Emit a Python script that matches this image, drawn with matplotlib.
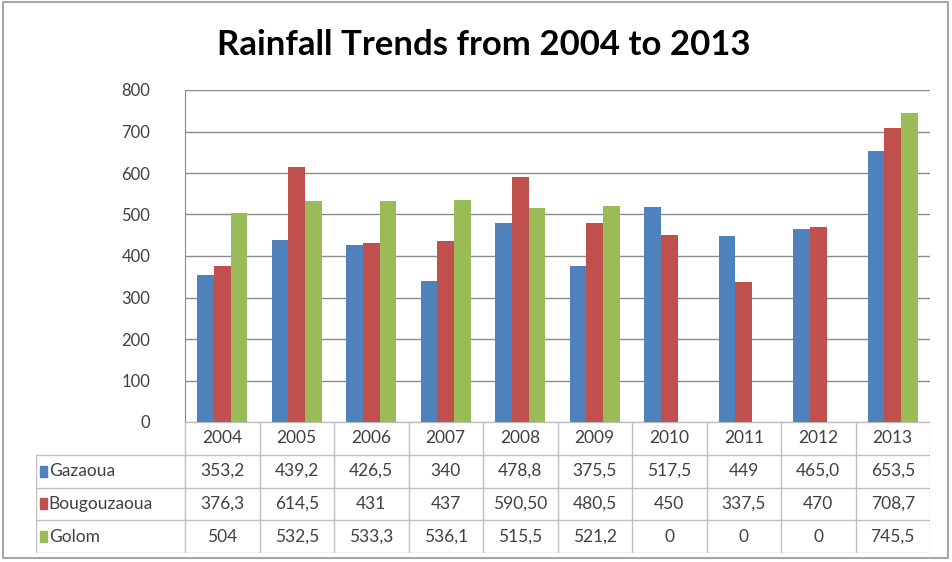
import numpy as np
import matplotlib.pyplot as plt
from matplotlib.patches import Rectangle

years = ["2004", "2005", "2006", "2007", "2008", "2009", "2010", "2011", "2012", "2013"]
stations = ["Gazaoua", "Bougouzaoua", "Golom"]
gazaoua = [353.2, 439.2, 426.5, 340, 478.8, 375.5, 517.5, 449, 465.0, 653.5]
bougouzaoua = [376.3, 614.5, 431, 437, 590.5, 480.5, 450, 337.5, 470, 708.7]
golom = [504, 532.5, 533.3, 536.1, 515.5, 521.2, 0, 0, 0, 745.5]
# texts shown in the data table (kept as written, comma decimals)
gazaoua_txt = ["353,2", "439,2", "426,5", "340", "478,8", "375,5", "517,5", "449", "465,0", "653,5"]
bougouzaoua_txt = ["376,3", "614,5", "431", "437", "590,50", "480,5", "450", "337,5", "470", "708,7"]
golom_txt = ["504", "532,5", "533,3", "536,1", "515,5", "521,2", "0", "0", "0", "745,5"]

colors = ["#4F81BD", "#C0504D", "#9BBB59"]
txt_col = "#404040"
line_col = "#BFBFBF"
font = "Lato"

W, H = 952, 562
fig = plt.figure(figsize=(W / 100, H / 100), dpi=100)
fig.patch.set_facecolor("white")

def px(x0, y0, x1, y1):
    return [x0 / W, 1 - y1 / H, (x1 - x0) / W, (y1 - y0) / H]

# outer chart border
fig.add_artist(Rectangle((3 / W, 1 - 558 / H), 945 / W, 556 / H, transform=fig.transFigure,
                         fill=False, edgecolor="#A6A6A6", linewidth=1.5))

fig.text(484 / W, 1 - 45 / H, "Rainfall Trends from 2004 to 2013", ha="center", va="center",
         fontsize=25, fontweight="bold", family=font, color="black")

# bars
ax = fig.add_axes(px(185, 90, 930, 422))
x = np.arange(len(years))
bw = 1 / 4.5
for i, (vals, c) in enumerate(zip([gazaoua, bougouzaoua, golom], colors)):
    ax.bar(x + (i - 1) * bw, vals, width=bw, color=c, zorder=2)
ax.set_xlim(-0.5, len(years) - 0.5)
ax.set_ylim(0, 800)
ax.set_yticks(range(0, 801, 100))
ax.yaxis.grid(True, color="#8C8C8C", linewidth=1)
ax.set_axisbelow(True)
ax.set_xticks([])
for s in ["top", "right", "bottom"]:
    ax.spines[s].set_visible(False)
ax.spines["left"].set_color("#8C8C8C")
ax.tick_params(axis="y", length=0, pad=25, labelsize=12, labelcolor=txt_col)
for lab in ax.get_yticklabels():
    lab.set_family(font)

# data table under the plot
scale = (len(years)) / (930 - 185)
left = -0.5 - (185 - 36) * scale
tab = fig.add_axes(px(36, 422, 930, 553))
tab.set_xlim(left, len(years) - 0.5)
tab.set_ylim(4, 0)
tab.axis("off")

# horizontal rules
tab.plot([-0.5, len(years) - 0.5], [0, 0], color=line_col, lw=1)
for r in [1, 2, 3, 4]:
    tab.plot([left, len(years) - 0.5], [r, r], color=line_col, lw=1)
# vertical rules
tab.plot([left, left], [1, 4], color=line_col, lw=1)
for b in np.arange(-0.5, len(years), 1.0):
    tab.plot([b, b], [0, 4], color=line_col, lw=1)

fs = 12.5
for j, yr in enumerate(years):
    tab.text(j, 0.5, yr, ha="center", va="center", fontsize=fs, color=txt_col, family=font)
for r, (name, vals) in enumerate(zip(stations, [gazaoua_txt, bougouzaoua_txt, golom_txt])):
    yc = r + 1.5
    tab.add_patch(Rectangle((left + 0.05, yc - 0.17), 0.1, 0.34, color=colors[r]))
    tab.text(left + 0.17, yc, name, ha="left", va="center", fontsize=fs, color=txt_col, family=font)
    for j, v in enumerate(vals):
        tab.text(j, yc, v, ha="center", va="center", fontsize=fs, color=txt_col, family=font)

fig.savefig("out.png", dpi=100)
